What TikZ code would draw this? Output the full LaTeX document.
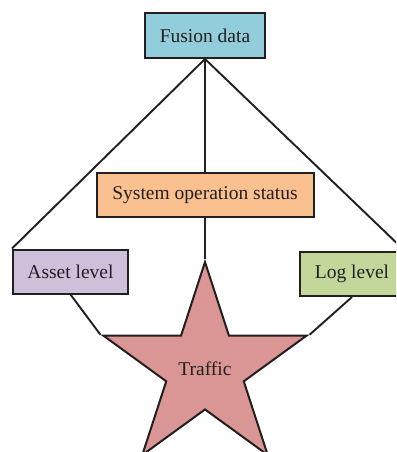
\documentclass[tikz,border=0pt]{standalone}
\usepackage{fontspec}
\setmainfont{Liberation Serif}
\usetikzlibrary{shapes.geometric}
\definecolor{fusionfill}{HTML}{92CDDC}
\definecolor{statusfill}{HTML}{FAC08F}
\definecolor{assetfill}{HTML}{CCC0DA}
\definecolor{logfill}{HTML}{C4D79B}
\definecolor{starfill}{HTML}{D99694}
\definecolor{ink}{HTML}{231F20}
\tikzset{
  box/.style={draw=ink, line width=2pt, rectangle, inner sep=0pt,
    text=ink, font=\fontsize{19.5}{22}\selectfont},
  link/.style={draw=ink, line width=1.9pt},
}
\begin{document}
\begin{tikzpicture}[x=1pt,y=-1pt]
  \useasboundingbox (0,0) rectangle (396,452);
  \clip (0,0) rectangle (396,452);
  % central star
  \node[star, star points=5, star point ratio=2.618, minimum size=213.4pt,
        inner sep=0pt, draw=ink, line width=2pt, fill=starfill,
        text=ink, font=\fontsize{19.5}{22}\selectfont] (traffic) at (205,368.7) {Traffic};
  % boxes
  \node[box, fill=fusionfill, minimum width=120pt, minimum height=45pt] (fusion) at (205,35.5) {Fusion data};
  \node[box, fill=statusfill, minimum width=217pt, minimum height=44pt] (status) at (205,195) {System operation status};
  \node[box, fill=assetfill, minimum width=115pt, minimum height=44pt] (asset) at (70.5,271.5) {Asset level};
  \node[box, fill=logfill, minimum width=104pt, minimum height=44pt] (log) at (352,274) {Log level};
  % connectors
  \draw[link] (fusion.south) -- (asset.north west);
  \draw[link] (fusion.south) -- (log.north east);
  \draw[link] (fusion.south) -- (status.north);
  \draw[link] (status.south) -- (traffic.outer point 1);
  \draw[link] (asset.south) -- (traffic.outer point 2);
  \draw[link] (log.south) -- (traffic.outer point 5);
\end{tikzpicture}
\end{document}
